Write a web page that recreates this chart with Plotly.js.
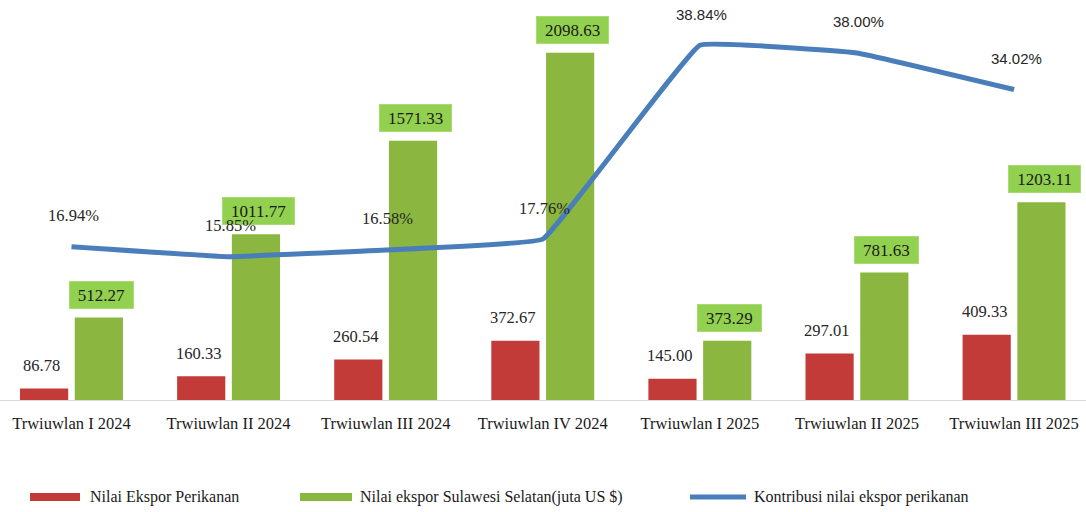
<!DOCTYPE html>
<html>
<head>
<meta charset="utf-8">
<script src="https://cdn.plot.ly/plotly-3.0.1.min.js"></script>
<style>html,body{margin:0;padding:0;background:#fff;}#chart{width:1086px;height:512px;}</style>
</head>
<body>
<div id="chart"></div>
<script>
const categories = ["Trwiuwlan I 2024","Trwiuwlan II 2024","Trwiuwlan III 2024","Trwiuwlan IV 2024","Trwiuwlan I 2025","Trwiuwlan II 2025","Trwiuwlan III 2025"];
const eksporPerikanan = [86.78, 160.33, 260.54, 372.67, 145.00, 297.01, 409.33];
const eksporSulsel = [512.27, 1011.77, 1571.33, 2098.63, 373.29, 781.63, 1203.11];
const kontribusi = [16.94, 15.85, 16.58, 17.76, 38.84, 38.00, 34.02];
const seriesNames = ["Nilai Ekspor Perikanan", "Nilai ekspor Sulawesi Selatan(juta US $)", "Kontribusi nilai ekspor perikanan"];

const RED = '#c33b38', GREEN = '#8bb63f', BLUE = '#4a7ebb', BOXGREEN = '#92d050';
const SERIF = '"Liberation Serif", "Times New Roman", serif';
const SANS = '"Liberation Sans", Arial, sans-serif';

const PLOT_TOP = 20, PLOT_BOTTOM = 400, H = 512, W = 1086;
const py = p => (PLOT_BOTTOM - p) / (PLOT_BOTTOM - PLOT_TOP);
const px = p => p / W;

const traces = [
  {type:'bar', name:seriesNames[0], x:categories, y:eksporPerikanan, marker:{color:RED}, hoverinfo:'skip'},
  {type:'bar', name:seriesNames[1], x:categories, y:eksporSulsel, marker:{color:GREEN}, hoverinfo:'skip'},
  {type:'scatter', mode:'lines', name:seriesNames[2], x:categories, y:kontribusi, yaxis:'y2',
   line:{color:BLUE, width:5, shape:'spline', smoothing:0.2}, hoverinfo:'skip'}
];

const annotations = [];
categories.forEach((c,i)=>{
  annotations.push({x:c, y:eksporPerikanan[i], xref:'x', yref:'y', text:eksporPerikanan[i].toFixed(2),
    showarrow:false, xshift:-30, yshift:23, yanchor:'middle', font:{family:SERIF, size:16.5, color:'#262626'}});
  const t = eksporSulsel[i].toFixed(2);
  annotations.push({x:c, y:eksporSulsel[i], xref:'x', yref:'y', text:t,
    showarrow:false, xshift:30, yshift:23, yanchor:'middle', bgcolor:BOXGREEN, bordercolor:'#a9db72', borderwidth:1,
    borderpad:2, width:t.length*8.6+7, height:22, font:{family:SERIF, size:17, color:'#1a1a1a'}});
  annotations.push({x:c, y:kontribusi[i], xref:'x', yref:'y2', text:kontribusi[i].toFixed(2)+'%',
    showarrow:false, xshift:2, yshift:31, yanchor:'middle',
    font:(i<4 ? {family:SERIF, size:16.5, color:'#262626'} : {family:SANS, size:15, color:'#262626'})});
});

// custom legend
const LEG_Y = 497;
const legendItems = [
  {x0:30, x1:80, tx:88, kind:'rect', color:RED, label:seriesNames[0]},
  {x0:300, x1:352, tx:358, kind:'rect', color:GREEN, label:seriesNames[1]},
  {x0:690, x1:746, tx:752, kind:'line', color:BLUE, label:seriesNames[2]}
];
const shapes = [];
legendItems.forEach(it=>{
  if(it.kind==='rect'){
    shapes.push({type:'rect', xref:'paper', yref:'paper', x0:px(it.x0), x1:px(it.x1), y0:py(LEG_Y-4), y1:py(LEG_Y+4),
      fillcolor:it.color, line:{width:0}});
  } else {
    shapes.push({type:'line', xref:'paper', yref:'paper', x0:px(it.x0), x1:px(it.x1), y0:py(LEG_Y), y1:py(LEG_Y),
      line:{color:it.color, width:5}});
  }
  annotations.push({xref:'paper', yref:'paper', x:px(it.tx), y:py(LEG_Y), xanchor:'left', yanchor:'middle',
    text:it.label, showarrow:false, font:{family:SERIF, size:16, color:'#1a1a1a'}});
});

const layout = {
  width:W, height:H,
  margin:{l:0, r:0, t:PLOT_TOP, b:H-PLOT_BOTTOM, pad:0},
  paper_bgcolor:'#ffffff', plot_bgcolor:'#ffffff',
  showlegend:false,
  barmode:'group', bargap:0.303, bargroupgap:0.12,
  xaxis:{type:'category', range:[-0.455, 6.458], showgrid:false, zeroline:false,
    showline:true, linecolor:'#d9d9d9', linewidth:1, ticks:'', ticklabelstandoff:8,
    tickfont:{family:SERIF, size:16.5, color:'#1a1a1a'}},
  yaxis:{range:[18, 2295], visible:false, showgrid:false, zeroline:false},
  yaxis2:{range:[0.27, 41.58], overlaying:'y', side:'right', visible:false, showgrid:false, zeroline:false},
  annotations:annotations, shapes:shapes
};

Plotly.newPlot('chart', traces, layout, {displayModeBar:false, staticPlot:true});
</script>
</body>
</html>
